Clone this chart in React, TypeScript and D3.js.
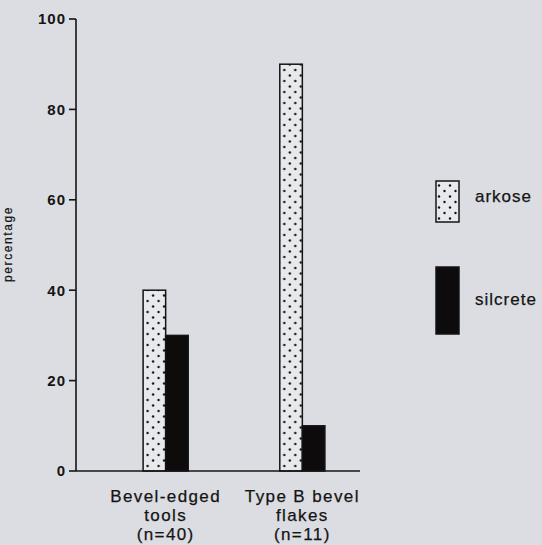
import React from "react";
import * as d3 from "d3";

const categories = ["Bevel-edged tools (n=40)", "Type B bevel flakes (n=11)"];
const categoryLines = [
  ["Bevel-edged", "tools", "(n=40)"],
  ["Type B bevel", "flakes", "(n=11)"],
];
const series = ["arkose", "silcrete"];
const arkoseValues = [40, 90];
const silcreteValues = [30, 10];
const yTicks = [0, 20, 40, 60, 80, 100];

const W = 542;
const H = 545;
const FONT = "'Liberation Sans', Arial, Helvetica, sans-serif";
const INK = "#141414";

export default function App() {
  const y = d3.scaleLinear().domain([0, 100]).range([471, 19]);
  const x0 = d3
    .scaleBand<string>()
    .domain(categories)
    .range([98, 370])
    .paddingInner(0.67)
    .paddingOuter(0.33);
  const x1 = d3.scaleBand<string>().domain(series).range([0, x0.bandwidth()]);
  const valuesBySeries: Record<string, number[]> = {
    arkose: arkoseValues,
    silcrete: silcreteValues,
  };
  const axisX = 76;
  const baseY = y(0);

  const fillFor = (s: string) => (s === "arkose" ? "url(#dots)" : "#0d0b0c");

  return (
    <svg
      width={W}
      height={H}
      style={{ position: "absolute", left: 0, top: 0 }}
      fontFamily={FONT}
    >
      <defs>
        <pattern id="dots" x={3} y={2} width={11} height={11} patternUnits="userSpaceOnUse">
          <rect width={11} height={11} fill="#e8e9ec" />
          <circle cx={1.5} cy={2} r={1.2} fill="#111" />
          <circle cx={7} cy={7.5} r={1.2} fill="#111" />
        </pattern>
      </defs>
      <rect width={W} height={H} fill="#dcdde2" />

      {/* y axis */}
      <line x1={axisX} x2={axisX} y1={y(100)} y2={baseY} stroke={INK} strokeWidth={1.6} />
      {yTicks.map((t) => (
        <g key={t}>
          <line x1={axisX - 7} x2={axisX} y1={y(t)} y2={y(t)} stroke={INK} strokeWidth={1.6} />
          <text
            x={axisX - 10}
            y={y(t)}
            dy="0.36em"
            textAnchor="end"
            fontSize={15}
            fontWeight="bold"
            letterSpacing={1}
            fill={INK}
          >
            {t}
          </text>
        </g>
      ))}
      <text
        transform={`translate(12,244) rotate(-90)`}
        textAnchor="middle"
        fontSize={12}
        letterSpacing={1.6}
        fill={INK}
        stroke={INK}
        strokeWidth={0.2}
      >
        percentage
      </text>

      {/* bars */}
      {categories.map((c, i) => (
        <g key={c} transform={`translate(${x0(c)},0)`}>
          {series.map((s) => {
            const v = valuesBySeries[s][i];
            return (
              <rect
                key={s}
                x={x1(s)}
                y={y(v)}
                width={x1.bandwidth()}
                height={baseY - y(v)}
                fill={fillFor(s)}
                stroke={INK}
                strokeWidth={1.5}
              />
            );
          })}
        </g>
      ))}

      {/* baseline */}
      <line x1={axisX} x2={360} y1={baseY} y2={baseY} stroke={INK} strokeWidth={1.6} />

      {/* category labels */}
      {categories.map((c, i) => (
        <text
          key={c}
          x={(x0(c) as number) + x0.bandwidth() / 2}
          textAnchor="middle"
          fontSize={17}
          letterSpacing={1.4}
          fill={INK}
          stroke={INK}
          strokeWidth={0.25}
        >
          {categoryLines[i].map((ln, j) => (
            <tspan key={j} x={(x0(c) as number) + x0.bandwidth() / 2} y={502 + j * 19}>
              {ln}
            </tspan>
          ))}
        </text>
      ))}

      {/* legend */}
      {series.map((s, i) => {
        const top = i === 0 ? 181 : 267;
        const h = i === 0 ? 41 : 67;
        return (
          <g key={s}>
            <rect
              x={436}
              y={top}
              width={23}
              height={h}
              fill={fillFor(s)}
              stroke={INK}
              strokeWidth={1.5}
            />
            <text
              x={475}
              y={i === 0 ? 196 : 299}
              dy="0.35em"
              fontSize={17}
              letterSpacing={1}
              fill={INK}
              stroke={INK}
              strokeWidth={0.25}
            >
              {s}
            </text>
          </g>
        );
      })}
    </svg>
  );
}
